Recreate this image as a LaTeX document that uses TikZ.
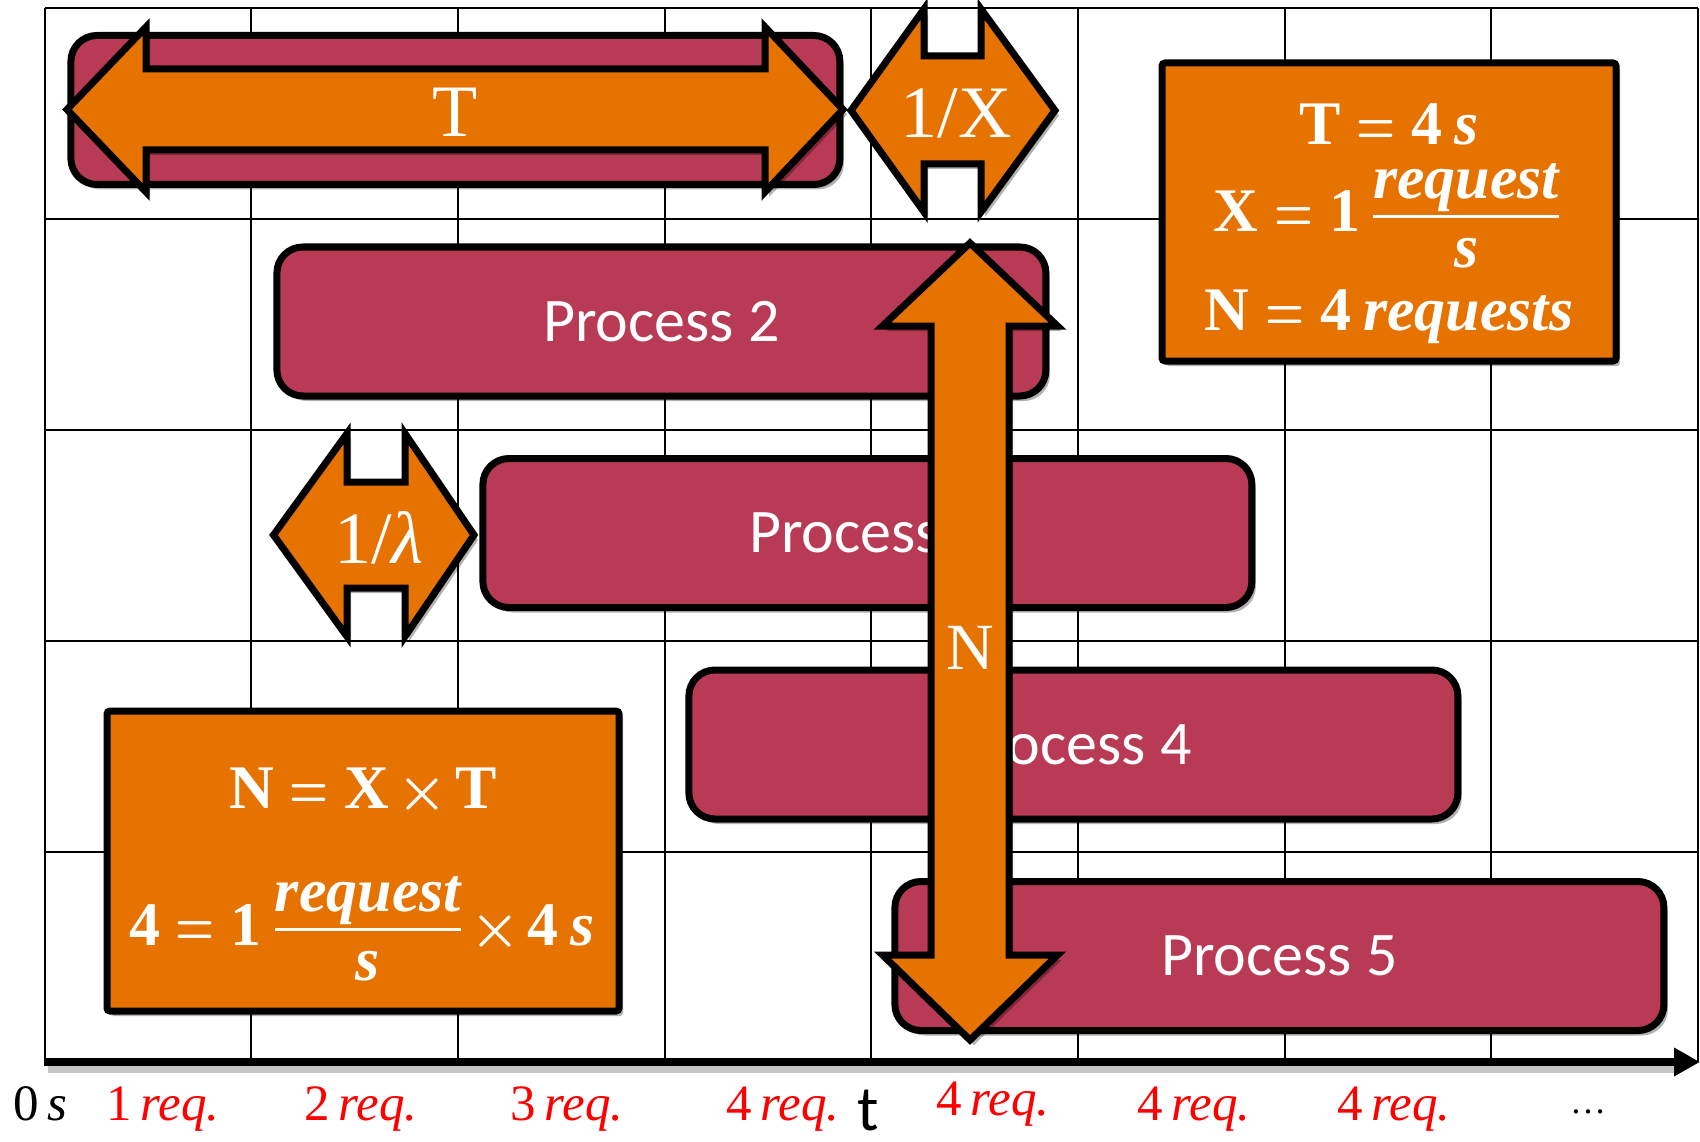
\RequirePackage{fix-cm}
\documentclass[tikz,border=0pt]{standalone}
\usepackage{graphicx}
\usepackage{fontspec}
\setmainfont{Liberation Serif}
\newfontfamily\carlito{Carlito}
\usetikzlibrary{shadows,arrows.meta}
\definecolor{procred}{RGB}{184,58,84}
\definecolor{arrorange}{RGB}{230,115,0}
\definecolor{labred}{RGB}{255,0,0}
\newcommand\ftb[1]{\mbox{\bfseries #1}}
\newcommand\ftbi[1]{\mbox{\bfseries\itshape #1}}
\newcommand\meq{\mathrel{\scalebox{0.72}[1]{$=$}}}
\newcommand\mtm{\mathbin{\scalebox{0.9}{$\times$}}}
\newcommand\myfrac[2]{{\textstyle{\mbox{#1}\above 3pt\raisebox{-12pt}{#2}}}}
\newcommand\eqspacing{\thickmuskip=4mu\relax\medmuskip=2mu\relax}
\tikzset{
  shad/.style={drop shadow={shadow xshift=4pt,shadow yshift=-5pt,opacity=0.3,fill=black}},
  gridline/.style={line width=2pt,black},
  procbox/.style={draw=black,line width=7pt,fill=procred,rounded corners=26pt,
    minimum width=769pt,minimum height=149pt,inner sep=0pt,text=white,
    font=\carlito\fontsize{62}{70}\selectfont,shad},
  fbox/.style={draw=black,line width=7pt,fill=arrorange,rounded corners=3pt,inner sep=0pt,shad},
  arrshape/.style={draw=black,line width=7pt,fill=arrorange,line join=miter,shad},
  arrlabel/.style={text=white,inner sep=0pt,anchor=base,font=\fontsize{74}{80}\selectfont},
  eqtext/.style={text=white,inner sep=0pt,anchor=base,
    font=\fontsize{62}{70}\selectfont\boldmath\eqspacing},
  redlab/.style={text=labred,inner sep=0pt,anchor=base,font=\fontsize{51}{56}\selectfont}
}
\begin{document}
\begin{tikzpicture}[x=1pt,y=-1pt]
\useasboundingbox (0,0) rectangle (1700,1142);
% grid
\foreach \i in {0,...,8} { \draw[gridline] ({44.5+\i*206.7},8) -- ({44.5+\i*206.7},1062); }
\foreach \j in {0,...,4} { \draw[gridline] (44.5,{8+\j*211}) -- (1698,{8+\j*211}); }
% axis
\coordinate (ax0) at (44,1062);
\coordinate (ax1) at (1700,1062);
\coordinate (axs0) at (48,1069);
\coordinate (axs1) at (1676,1069);
\draw[line width=8pt,black,opacity=0.22] (axs0) -- (axs1);
\draw[line width=8pt,-{Triangle[length=26pt,width=27pt]}] (ax0) -- (ax1);
% processes
\node[procbox] (p1) at (455.4,110) {};
\node[procbox] (p2) at (661.4,321.5) {Process 2};
\node[procbox] (p3) at (867.4,533) {Process 3};
\node[procbox] (p4) at (1073.4,744.5) {Process 4};
\node[procbox] (p5) at (1279.4,956) {Process 5};
% formula boxes
\node[fbox,minimum width=454pt,minimum height=298pt] (fb1) at (1389,212) {};
\node[fbox,minimum width=512pt,minimum height=300pt] (fb2) at (363,861) {};
\node[eqtext] (eq1) at (1389,145) {$\ftb{T}\meq\ftb{4}\,\ftbi{s}$};
\node[eqtext] (eq2) at (1387,232) {$\ftb{X}\meq\ftb{1}\,\myfrac{\ftbi{request}}{\ftbi{s}}$};
\node[eqtext] (eq3) at (1389,330) {$\ftb{N}\meq\ftb{4}\,\ftbi{requests}$};
\node[eqtext] (eq4) at (363,808) {$\ftb{N}\meq\ftb{X}\mtm\ftb{T}$};
\node[eqtext] (eq5) at (362,945) {$\ftb{4}\meq\ftb{1}\,\myfrac{\ftbi{request}}{\ftbi{s}}\mtm\ftb{4}\,\ftbi{s}$};
% arrows
\draw[arrshape] (67,109.5) -- (146,27) -- (146,69) -- (765,69) -- (765,27) -- (843,109.5)
  -- (765,192) -- (765,150) -- (146,150) -- (146,192) -- cycle;
\node[arrlabel] (tlab) at (455,137) {T};
\draw[arrshape] (851,110.5) -- (924,9) -- (924,56) -- (981,56) -- (981,9) -- (1055,110.5)
  -- (981,212) -- (981,164) -- (924,164) -- (924,212) -- cycle;
\node[arrlabel] (xlab) at (956,138) {1/X};
\draw[arrshape] (273.5,535) -- (347,433.5) -- (347,482) -- (405,482) -- (405,433.5) -- (474,535)
  -- (405,636.5) -- (405,588) -- (347,588) -- (347,636.5) -- cycle;
\node[arrlabel] (llab) at (379,563) {1/\textit{λ}};
\draw[arrshape] (970,243) -- (1057.5,326) -- (1009,326) -- (1009,955) -- (1057.5,955) -- (970,1040)
  -- (882.5,955) -- (931,955) -- (931,326) -- (882.5,326) -- cycle;
\node[arrlabel,font=\fontsize{66}{70}\selectfont] (nlab) at (970,669) {N};
% bottom labels
\node[redlab,text=black] (l0) at (40,1120) {0\,\textit{s}};
\node[redlab] (l1) at (163,1120) {1\,\textit{req.}};
\node[redlab] (l2) at (361,1120) {2\,\textit{req.}};
\node[redlab] (l3) at (567,1120) {3\,\textit{req.}};
\node[redlab] (l4) at (783,1120) {4\,\textit{req.}};
\node[redlab] (l5) at (993,1115) {4\,\textit{req.}};
\node[redlab] (l6) at (1194,1120) {4\,\textit{req.}};
\node[redlab] (l7) at (1394,1120) {4\,\textit{req.}};
\node[redlab,text=black,font=\fontsize{36}{40}\selectfont] (l8) at (1588,1113) {…};
\node[anchor=base,inner sep=0pt,font=\carlito\fontsize{64}{70}\selectfont] (tax) at (868,1130) {t};
\end{tikzpicture}
\end{document}
